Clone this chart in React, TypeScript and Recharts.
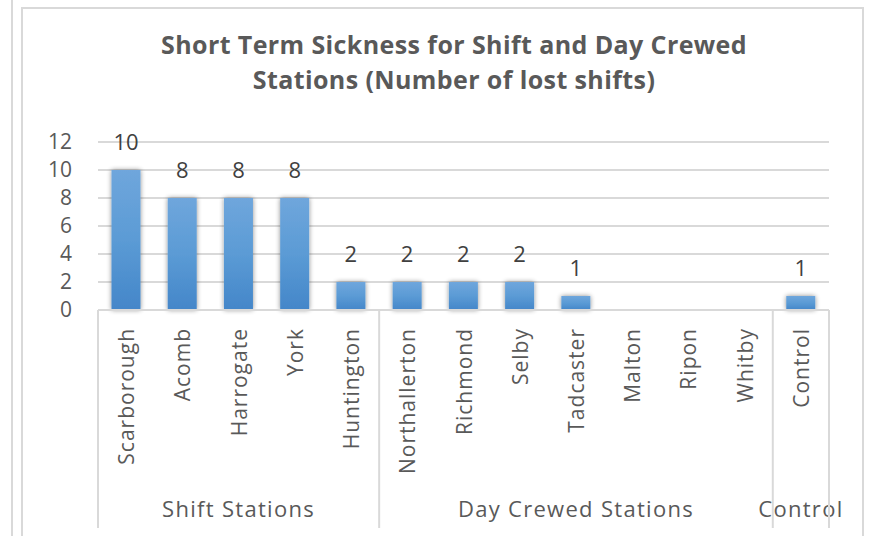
import React from 'react';
import { BarChart, Bar, XAxis, YAxis, CartesianGrid, LabelList } from 'recharts';

const categories = ['Scarborough', 'Acomb', 'Harrogate', 'York', 'Huntington', 'Northallerton', 'Richmond', 'Selby', 'Tadcaster', 'Malton', 'Ripon', 'Whitby', 'Control'];
const lostShifts = [10, 8, 8, 8, 2, 2, 2, 2, 1, 0, 0, 0, 1];
const groupNames = ['Shift Stations', 'Day Crewed Stations', 'Control'];
const groupSizes = [5, 7, 1];
const yTicks = [0, 2, 4, 6, 8, 10, 12];

const data = categories.map((name, i) => ({ name, value: lostShifts[i] }));

const FONT = '"Open Sans", "Noto Sans", sans-serif';
const TEXT = '#595959';
const LINE = '#d9d9d9';

const groupStarts: number[] = [];
{
  let acc = 0;
  groupSizes.forEach((s) => {
    groupStarts.push(acc);
    acc += s;
  });
}

const CategoryTick = (props: any) => {
  const { x, y, index, width, visibleTicksCount } = props;
  const count = visibleTicksCount || categories.length;
  const step = width / count;
  const left = x - step / 2;
  const els: React.ReactNode[] = [];
  els.push(
    <text
      key="t"
      x={x}
      y={y + 18}
      transform={`rotate(-90, ${x}, ${y + 18})`}
      textAnchor="end"
      dominantBaseline="central"
      fill={TEXT}
      fontSize={21}
      fontFamily={FONT}
      letterSpacing={1}
    >
      {categories[index]}
    </text>
  );
  const g = groupStarts.indexOf(index);
  if (g >= 0) {
    els.push(<line key="l" x1={left} x2={left} y1={y} y2={y + 218} stroke={LINE} strokeWidth={2} />);
    const size = groupSizes[g];
    const cx = left + (size * step) / 2;
    els.push(
      <text
        key="g"
        x={cx}
        y={y + 207}
        textAnchor="middle"
        fill={TEXT}
        fontSize={22}
        fontFamily={FONT}
        letterSpacing={1.3}
      >
        {groupNames[g]}
      </text>
    );
  }
  if (index === categories.length - 1) {
    const right = x + step / 2;
    els.push(<line key="r" x1={right} x2={right} y1={y} y2={y + 218} stroke={LINE} strokeWidth={2} />);
  }
  return <g>{els}</g>;
};

export default function App() {
  return (
    <div
      style={{
        position: 'absolute',
        left: 0,
        top: 0,
        width: 873,
        height: 536,
        background: '#fff',
        overflow: 'hidden',
        fontFamily: FONT,
      }}
    >
      <div style={{ position: 'absolute', left: 11, top: -4, width: 2, height: 560, background: LINE }} />
      <div
        style={{
          position: 'absolute',
          left: 21,
          top: 7,
          width: 839,
          height: 560,
          border: `2px solid ${LINE}`,
        }}
      />
      <div
        style={{
          position: 'absolute',
          left: 54,
          width: 800,
          top: 27,
          textAlign: 'center',
          fontWeight: 700,
          fontSize: 25,
          letterSpacing: 0.4,
          lineHeight: '35px',
          color: TEXT,
          fontFamily: FONT,
        }}
      >
        Short Term Sickness for Shift and Day Crewed
        <br />
        Stations (Number of lost shifts)
      </div>
      <div style={{ position: 'absolute', left: 0, top: 0 }}>
        <BarChart
          width={873}
          height={536}
          data={data}
          margin={{ top: 142, right: 44, bottom: 0, left: 0 }}
          barCategoryGap="24%"
        >
          <defs>
            <linearGradient id="barGrad2" x1="0" y1="0" x2="0" y2="1">
              <stop offset="0%" stopColor="#6fa6dc" />
              <stop offset="50%" stopColor="#5b9bd5" />
              <stop offset="100%" stopColor="#4486c9" />
            </linearGradient>
            <filter id="barShadow" x="-30%" y="-30%" width="160%" height="160%">
              <feGaussianBlur in="SourceAlpha" stdDeviation="2.5" />
              <feOffset dx="0" dy="0" result="blur" />
              <feComponentTransfer>
                <feFuncA type="linear" slope="0.45" />
              </feComponentTransfer>
              <feMerge>
                <feMergeNode />
                <feMergeNode in="SourceGraphic" />
              </feMerge>
            </filter>
          </defs>
          <CartesianGrid vertical={false} stroke={LINE} strokeWidth={2} />
          <XAxis
            dataKey="name"
            interval={0}
            height={226}
            tickSize={0}
            tickMargin={0}
            tickLine={false}
            axisLine={{ stroke: LINE, strokeWidth: 2 }}
            tick={<CategoryTick />}
          />
          <YAxis
            width={98}
            domain={[0, 12]}
            ticks={yTicks}
            interval={0}
            axisLine={false}
            tickLine={false}
            tickSize={6}
            tickMargin={20}
            tick={{ fill: TEXT, fontSize: 21, fontFamily: FONT }}
          />
          <Bar dataKey="value" fill="url(#barGrad2)" isAnimationActive={false} filter="url(#barShadow)">
            <LabelList
              dataKey="value"
              position="top"
              offset={20}
              fill="#404040"
              fontSize={22}
              fontFamily={FONT}
              formatter={(v: any) => (v === 0 ? '' : v)}
            />
          </Bar>
        </BarChart>
      </div>
    </div>
  );
}
